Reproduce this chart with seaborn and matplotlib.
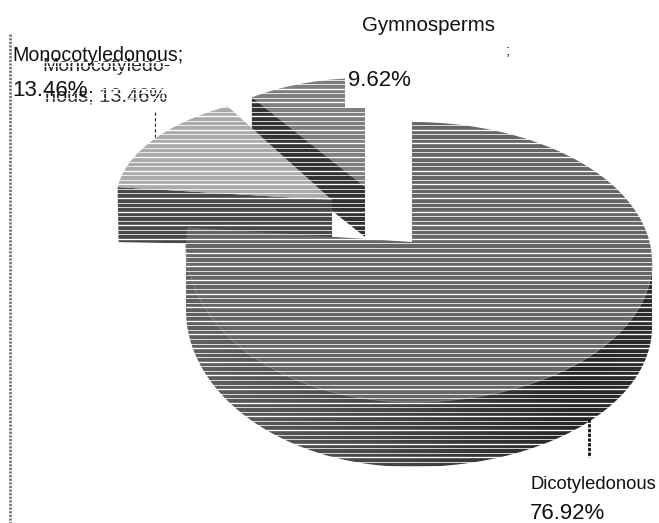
import numpy as np
import seaborn as sns
import matplotlib
matplotlib.use("Agg")
import matplotlib.pyplot as plt
from matplotlib.patches import Polygon, PathPatch
from matplotlib.path import Path

categories = ["Dicotyledonous", "Monocotyledonous", "Gymnosperms"]
values = [76.92, 13.46, 9.62]
value_labels = ["76.92%", "13.46%", "9.62%"]

sns.set_theme(style="white")
plt.rcParams["font.family"] = ["Liberation Sans", "DejaVu Sans"]
face_colors = sns.color_palette(["#666666", "#ababab", "#7f7f7f"])
wall_colors = sns.color_palette(["#3a3a3a", "#484848", "#333333"])

fig = plt.figure(figsize=(6.59, 5.23), dpi=100)
ax = fig.add_axes([0, 0, 1, 1])
ax.set_xlim(0, 659)
ax.set_ylim(523, 0)
ax.axis("off")

fractions = np.array(values) / sum(values)
edges = np.concatenate([[0], np.cumsum(fractions)]) * 2 * np.pi


def main_arc(theta):
    """Rim of the big slice; a slightly lopsided ellipse, as drawn in perspective."""
    s, c = np.sin(theta), np.cos(theta)
    right = s >= 0
    x = 412 + np.where(right, 240, 226) * s
    cy = np.where(right, 262, 245)
    ry = np.where(right, 140, np.where(c > 0, 147, 157))
    return x, cy - ry * c


def wedge_arc(theta, cx, cy, rx, ry):
    return cx + rx * np.sin(theta), cy - ry * np.cos(theta)


DEPTH = 65
PERSPECTIVE_SWEEP = 0.1
t_main = np.linspace(edges[0], edges[1], 300)
xm, ym = main_arc(t_main)
apex_main = (412, 242)

# Gymnosperm slice with stepped clip
t_g = np.linspace(edges[2], edges[3], 60)
xg, yg = wedge_arc(t_g, 365, 187, 199, 109)
gym_face = Polygon(np.c_[np.r_[365, xg], np.r_[187, yg]], closed=True,
                   fc=face_colors[2], ec="none", zorder=2)
ax.add_patch(gym_face)
clip = Path([(240, 60), (345, 60), (345, 108), (365, 108), (365, 260), (240, 260), (240, 60)])
gym_face.set_clip_path(PathPatch(clip, transform=ax.transData))
ax.add_patch(Polygon([(xg[0], yg[0]), (365, 187), (365, 237), (xg[0], yg[0] + 50)],
                     closed=True, fc=wall_colors[2], ec="none", zorder=3))

# Monocot slice
t_m = np.linspace(edges[1], edges[2] + PERSPECTIVE_SWEEP, 60)
xmo, ymo = wedge_arc(t_m, 332, 200, 216, 107)
ax.add_patch(Polygon([(xmo[0], ymo[0]), (332, 200), (332, 246), (xmo[0] + 1, ymo[0] + 55)],
                     closed=True, fc=wall_colors[1], ec="none", zorder=4))
ax.add_patch(Polygon(np.c_[np.r_[332, xmo], np.r_[200, ymo]], closed=True,
                     fc=face_colors[1], ec="none", zorder=5))

# Dicot slice: rim wall with a horizontal shading, then its top
t_w = np.linspace(np.pi / 2, 3 * np.pi / 2, 200)
xw, yw = main_arc(t_w)
wall = Polygon(np.c_[np.r_[xw, xw[::-1]], np.r_[yw, yw[::-1] + DEPTH]], closed=True,
               fc="none", ec="none", zorder=6)
ax.add_patch(wall)
shade = np.interp(np.linspace(0, 1, 256), [0, 0.45, 0.85, 1], [0.38, 0.27, 0.15, 0.18]).reshape(1, -1)
img = ax.imshow(shade, extent=(186, 652, 480, 240), cmap="gray", vmin=0, vmax=1,
                aspect="auto", zorder=6)
img.set_clip_path(wall)
ax.set_xlim(0, 659)
ax.set_ylim(523, 0)
ax.add_patch(Polygon(np.c_[np.r_[apex_main[0], xm], np.r_[apex_main[1], ym]], closed=True,
                     fc=face_colors[0], ec="none", zorder=7))
ax.plot(xw, yw, color="#7a7a7a", lw=0.8, zorder=7)

# Garbled duplicate label sits under the stripes
ax.text(42, 71, "Monocotyledo-", fontsize=14, color="#222222", va="baseline", zorder=8)
ax.text(45, 101, "nous; " + value_labels[1], fontsize=14.4, color="#222222", va="baseline", zorder=8)
ax.text(506, 55, ";", fontsize=11, color="#222222", zorder=8)

# White raster lines crossing the drawing
stripe_y = np.arange(61.5, 470, 4.55)
ax.hlines(stripe_y, 35, 655, color="white", lw=0.55, zorder=9)
ax.hlines(stripe_y[::3], 35, 655, color="white", lw=0.95, zorder=9)

# Labels and leaders
ax.text(12, 61, categories[1] + ";", fontsize=14.1, color="#111111", zorder=10)
ax.text(12, 96, value_labels[1], fontsize=16, color="#111111", zorder=10)
ax.text(362, 31, categories[2], fontsize=14.8, color="#111111", zorder=10)
ax.text(348, 86, value_labels[2], fontsize=16, color="#111111", zorder=10)
ax.text(530, 489, categories[0], fontsize=13.2, color="#111111", zorder=10)
ax.text(530, 519, value_labels[0], fontsize=16, color="#111111", zorder=10)
ax.plot([155, 155], [112, 137], color="#222222", lw=0.8, ls=(0, (3, 2)), zorder=10)
ax.plot([589, 589], [419, 457], color="#111111", lw=2, ls=(0, (1.2, 0.5)), zorder=10)
ax.plot([9.5, 9.5], [34, 523], color="#777777", lw=2, ls=(0, (0.8, 0.5)), zorder=10)

fig.savefig("out.png", dpi=100)
